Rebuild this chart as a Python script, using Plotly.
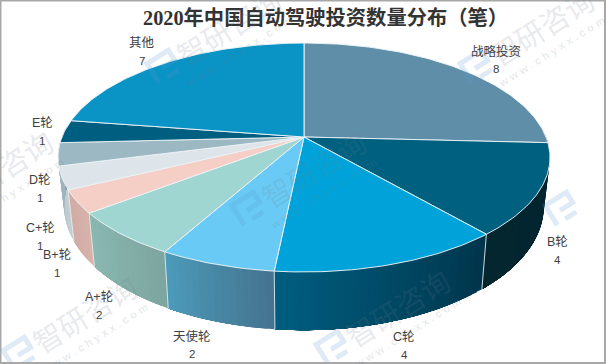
import math
import plotly.graph_objects as go

categories = ["战略投资", "B轮", "C轮", "天使轮", "A+轮", "B+轮", "C+轮", "D轮", "E轮", "其他"]
values = [8, 4, 4, 2, 2, 1, 1, 1, 1, 7]
top_colors = ["#5F8FA8", "#006080", "#00A3D9", "#69CBF5", "#A0D6D1",
              "#F5CFC5", "#DDE5EA", "#9BB8C3", "#005F80", "#0A93C5"]
wall_right = ["#3A5A6A", "#03242F", "#00344A", "#44738E", "#7DA59F",
              "#D8B3AB", "#C4CFD5", "#A0B4BE", "#00405A", "#066088"]
wall_left = ["#3A5A6A", "#03262F", "#005E80", "#4C9BBB", "#8AB9B2",
             "#D0ABA4", "#B8C5CC", "#A0B4BE", "#00405A", "#066088"]
label_pos = [(496, 51), (557, 242), (404, 337), (192, 336), (99, 297),
             (57, 255), (40, 228), (40, 180), (42, 123), (142, 43)]
title = "2020年中国自动驾驶投资数量分布（笔）"
wm_centers = [(228, 26), (541, 26), (0, 168), (313, 168), (626, 168), (84, 313), (397, 307)]

CX = 304
TOP = dict(a=242, b=110.8, y0=137, k=0.179)
BOT = dict(a=236, b=120, y0=184, k=0.179)


def proj(theta_deg, ring):
    t = math.radians(theta_deg)
    d = 1 + ring["k"] * math.cos(t)
    return CX + ring["a"] * math.sin(t) / d, ring["y0"] - ring["b"] * math.cos(t) / d


def mix(c1, c2, f):
    a = [int(c1[i:i + 2], 16) for i in (1, 3, 5)]
    b = [int(c2[i:i + 2], 16) for i in (1, 3, 5)]
    return "rgb(%d,%d,%d)" % tuple(round(p + (q - p) * f) for p, q in zip(a, b))


total = sum(values)
edges = [0]
for v in values:
    edges.append(edges[-1] + v / total * 360)

fig = go.Figure()
RIM = "rgba(235,242,245,0.95)"


def poly(xs, ys, fill, line, width):
    fig.add_trace(go.Scatter(x=xs, y=ys, mode="lines", fill="toself", fillcolor=fill,
                             line=dict(color=line, width=width), hoverinfo="skip", showlegend=False))


# side wall: overlapping strips painted in order, so each slice carries a gradient without seams
for i in range(len(values)):
    s, e = edges[i], edges[i + 1]
    lo, hi = max(s, 85), min(e, 275)
    if lo >= hi:
        continue
    n = max(2, int((hi - lo) / 1.5))
    for j in range(n):
        t0 = lo + (hi - lo) * j / n
        col = mix(wall_right[i], wall_left[i], (j + 0.5) / n)
        steps = [t0 + (hi - t0) * m / 6 for m in range(7)]
        p = [proj(t, TOP) for t in steps] + [proj(t, BOT) for t in reversed(steps)]
        p.append(p[0])
        poly([q[0] for q in p], [q[1] for q in p], col, col, 0)

# light seams between wall segments
for ed in edges[1:-1]:
    if 100 < ed < 250:
        a, b = proj(ed, TOP), proj(ed, BOT)
        fig.add_trace(go.Scatter(x=[a[0], b[0]], y=[a[1], b[1]], mode="lines",
                                 line=dict(color="rgba(225,235,238,0.9)", width=1),
                                 hoverinfo="skip", showlegend=False))

# top face
for i in range(len(values)):
    s, e = edges[i], edges[i + 1]
    n = max(4, int(e - s))
    arc = [proj(s + (e - s) * j / n, TOP) for j in range(n + 1)]
    xs = [CX] + [q[0] for q in arc] + [CX]
    ys = [TOP["y0"]] + [q[1] for q in arc] + [TOP["y0"]]
    poly(xs, ys, top_colors[i], RIM, 1)

# labels
annotations = [dict(x=325, y=17, xref="x", yref="y", text="<b>" + title + "</b>", showarrow=False,
                    font=dict(family="Liberation Serif, Noto Sans CJK SC", size=20.3, color="#333333"),
                    xanchor="center", yanchor="middle")]
for name, val, (lx, ly) in zip(categories, values, label_pos):
    annotations.append(dict(x=lx, y=ly, xref="x", yref="y", text=name, showarrow=False,
                            font=dict(family="Liberation Sans, Noto Sans CJK SC", size=12.5, color="#404040"),
                            xanchor="center", yanchor="middle"))
    annotations.append(dict(x=lx, y=ly + 18, xref="x", yref="y", text=str(val), showarrow=False,
                            font=dict(family="Liberation Sans, Noto Sans CJK SC", size=11.5, color="#404040"),
                            xanchor="center", yanchor="middle"))

# watermark
shapes = []
ca, sa = math.cos(math.radians(-32)), math.sin(math.radians(-32))


def logo_pt(ox, oy, p):
    return f"{ox + p[0] * ca - p[1] * sa:.1f},{oy + p[0] * sa + p[1] * ca:.1f}"


for wx, wy in wm_centers:
    annotations.append(dict(x=wx, y=wy, xref="x", yref="y", text="智研咨询", showarrow=False,
                            textangle=-32,
                            font=dict(family="Noto Sans CJK SC", size=29, color="rgba(110,125,140,0.18)"),
                            xanchor="center", yanchor="middle"))
    annotations.append(dict(x=wx + 10, y=wy + 26, xref="x", yref="y", text="<b>w w w . c h y x x . c o m</b>",
                            showarrow=False, textangle=-32,
                            font=dict(family="Liberation Sans", size=11, color="rgba(110,125,140,0.16)"),
                            xanchor="center", yanchor="middle"))
    ox, oy = wx - 64, wy + 40
    stroke = [(-13, 12), (-13, -11), (12, -11), (12, 1), (-3, 1)]
    foot = [(-3, 11), (10, 11)]
    path = "M" + " L".join(logo_pt(ox, oy, p) for p in stroke) + " M" + " L".join(logo_pt(ox, oy, p) for p in foot)
    shapes.append(dict(type="path", path=path, xref="x", yref="y",
                       line=dict(color="rgba(90,150,210,0.2)", width=5)))

shapes.append(dict(type="rect", x0=0.5, y0=0.5, x1=605, y1=363, xref="x", yref="y",
                   line=dict(color="#A8A8A8", width=2), fillcolor="rgba(0,0,0,0)"))

fig.update_layout(
    width=606, height=364, margin=dict(l=0, r=0, t=0, b=0),
    paper_bgcolor="white", plot_bgcolor="white", showlegend=False,
    xaxis=dict(range=[0, 606], visible=False, fixedrange=True),
    yaxis=dict(range=[364, 0], visible=False, fixedrange=True),
    annotations=annotations, shapes=shapes,
)
fig.write_html("out.html", config={"displayModeBar": False},
               post_script="document.body.style.margin='0';document.documentElement.style.overflow='hidden';")
